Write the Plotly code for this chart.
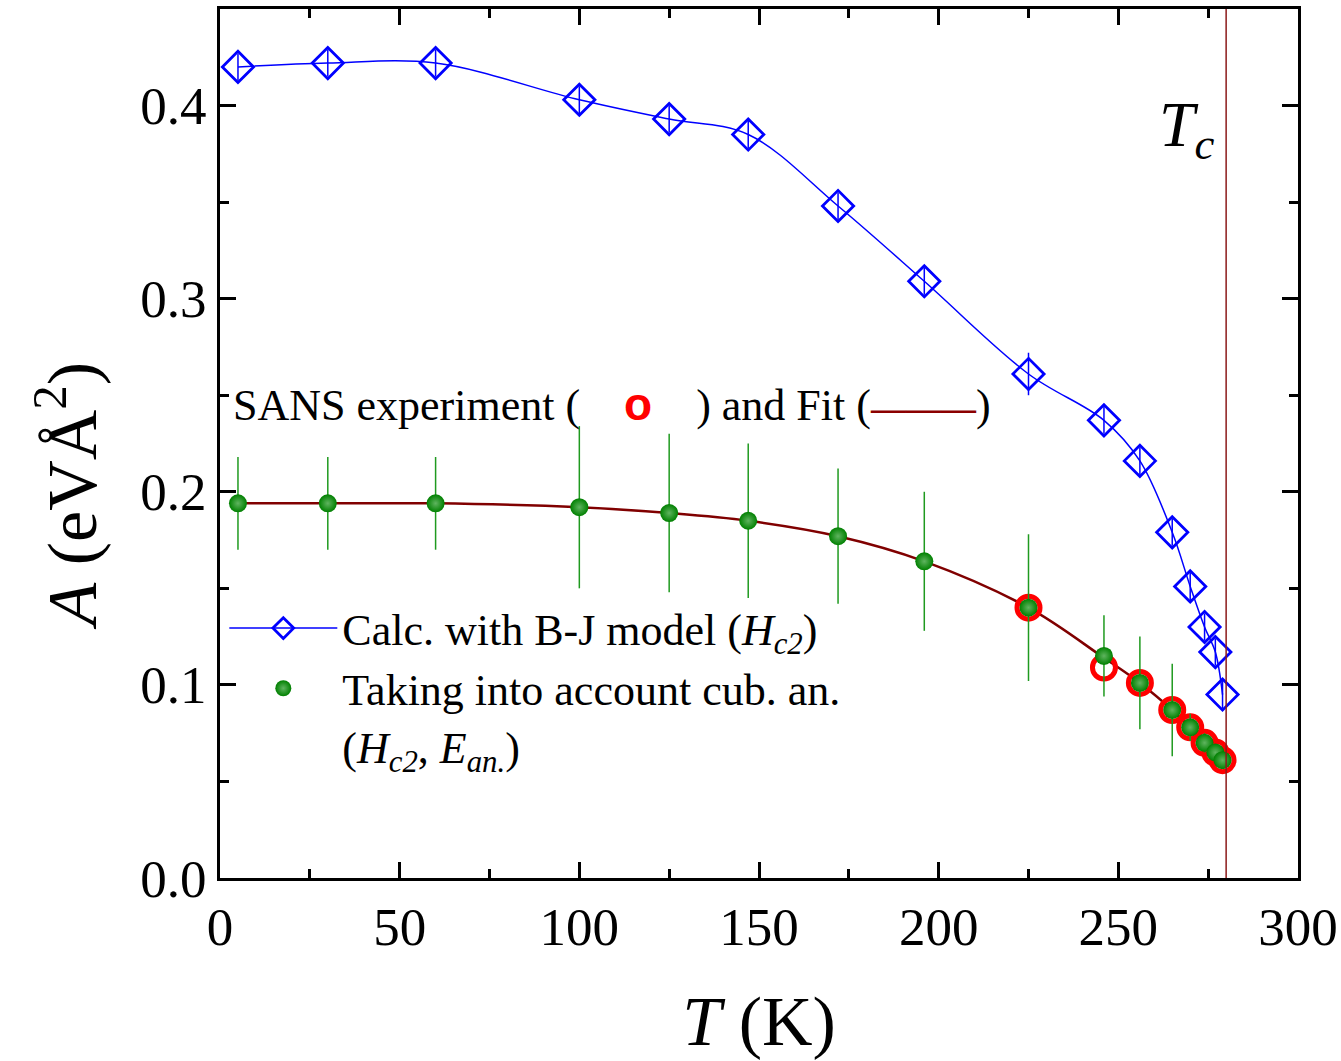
import plotly.graph_objects as go

# ---- data ----
T_bj = [5, 30, 60, 100, 125, 147, 172, 196, 225, 246, 256, 265, 270, 274, 277, 279]
A_bj = [0.420, 0.422, 0.422, 0.403, 0.393, 0.385, 0.348, 0.309, 0.261, 0.237,
        0.216, 0.179, 0.151, 0.130, 0.117, 0.095]
A_bj_err = [0.007, 0.007, 0.007, 0.007, 0.007, 0.007, 0.007, 0.007, 0.011, 0.007,
            0.007, 0.007, 0.007, 0.007, 0.007, 0.007]

T_an = [5, 30, 60, 100, 125, 147, 172, 196, 225, 246, 256, 265, 270, 274, 277, 279]
A_an = [0.194, 0.194, 0.194, 0.192, 0.189, 0.185, 0.177, 0.164, 0.140, 0.115,
        0.101, 0.087, 0.078, 0.070, 0.065, 0.061]
A_an_err = [0.024, 0.024, 0.024, 0.042, 0.041, 0.040, 0.035, 0.036, 0.038, 0.021,
            0.024, 0.024, 0.007, 0.005, 0.004, 0.004]

T_sans = [225, 246, 256, 265, 270, 274, 277, 279]
A_sans = [0.140, 0.109, 0.101, 0.087, 0.078, 0.070, 0.065, 0.061]

T_fit = [5, 30, 60, 100, 125, 147, 172, 196, 225, 246, 256, 265, 270, 274, 277, 279]
A_fit = [0.194, 0.194, 0.194, 0.192, 0.189, 0.185, 0.177, 0.164, 0.140, 0.114,
         0.101, 0.087, 0.078, 0.070, 0.065, 0.061]

TC = 280
x_ticks = [0, 50, 100, 150, 200, 250, 300]
y_ticks = [0.0, 0.1, 0.2, 0.3, 0.4]
y_tick_text = ["0.0", "0.1", "0.2", "0.3", "0.4"]

FONT = "Liberation Serif, Times New Roman, serif"
BLUE = "#0000ff"
GREEN = "#008000"
DRED = "#800000"

fig = go.Figure()

fig.add_trace(go.Scatter(
    x=T_bj, y=A_bj, mode="lines+markers", line=dict(color=BLUE, width=1.5, shape="spline"),
    marker=dict(symbol="diamond-open", size=24, color=BLUE, line=dict(width=2.8, color=BLUE)),
    error_y=dict(type="data", array=A_bj_err, color=BLUE, thickness=1.5, width=0),
    name="Calc. with B-J model (<i>H</i><sub><i>c2</i></sub>)"))

fig.add_trace(go.Scatter(
    x=T_fit, y=A_fit, mode="lines", line=dict(color=DRED, width=2.5, shape="spline"),
    showlegend=False, name="Fit"))

fig.add_trace(go.Scatter(
    x=T_sans, y=A_sans, mode="markers",
    marker=dict(symbol="circle-open", size=23, color="#ff0000", line=dict(width=5, color="#ff0000")),
    showlegend=False, name="SANS experiment"))

fig.add_trace(go.Scatter(
    x=T_an, y=A_an, mode="markers",
    marker=dict(symbol="circle", size=18, color=GREEN,
                gradient=dict(type="radial", color="#5fb45f")),
    error_y=dict(type="data", array=A_an_err, color="#1f9a1f", thickness=1.5, width=0),
    name="Taking into account cub. an.<br>(<i>H</i><sub><i>c2</i></sub>, <i>E</i><sub><i>an.</i></sub>)"))

fig.add_shape(type="line", x0=TC, x1=TC, y0=0, y1=1, xref="x", yref="paper",
              line=dict(color="#8b1a1a", width=1.5))

fig.add_annotation(x=TC - 2.5, y=0.388, xref="x", yref="y", xanchor="right", showarrow=False,
                   text="<i>T</i><sub><i>c</i></sub>", font=dict(family=FONT, size=64, color="black"))

fig.add_annotation(x=0.01, y=0.2457, xref="paper", yref="y", xanchor="left", yanchor="middle",
                   showarrow=False,
                   text="SANS experiment (    <span style='color:#ff0000;font-family:Arial;font-size:46px'><b>o</b></span>    ) and Fit (<span style='color:#8b0000;font-size:35px'><b>―――</b></span>)",
                   font=dict(family=FONT, size=44, color="black"))

# y-axis title placed as a rotated annotation (it is off-centre in the reference)
fig.add_annotation(x=-0.143, y=0.44, xref="paper", yref="paper", xanchor="center", yanchor="middle",
                   showarrow=False, textangle=-90,
                   text="<i>A</i> (eVÅ<sup>2</sup>)", font=dict(family=FONT, size=70, color="black"))

axis_common = dict(showline=True, linecolor="black", linewidth=3, mirror="ticks",
                   ticks="inside", tickcolor="black", tickwidth=2.5, ticklen=16,
                   showgrid=False, zeroline=False, automargin=False,
                   tickfont=dict(family=FONT, size=53, color="black"))

fig.update_xaxes(range=[0, 300], tickvals=x_ticks, ticktext=[str(v) for v in x_ticks],
                 minor=dict(ticks="inside", ticklen=9, tickwidth=2.5, tickcolor="black", dtick=25),
                 title=dict(text="<i>T</i> (K)", font=dict(family=FONT, size=70, color="black"), standoff=42),
                 **axis_common)
fig.update_yaxes(range=[0, 0.45], tickvals=y_ticks, ticktext=y_tick_text,
                 minor=dict(ticks="inside", ticklen=9, tickwidth=2.5, tickcolor="black", dtick=0.05),
                 **axis_common)

fig.update_layout(
    width=1341, height=1061,
    margin=dict(l=220, r=43, t=9, b=183),
    paper_bgcolor="white", plot_bgcolor="white",
    showlegend=True,
    legend=dict(x=0.004, y=0.328, xanchor="left", yanchor="top", bgcolor="rgba(0,0,0,0)",
                font=dict(family=FONT, size=44, color="black"), valign="top",
                itemwidth=108, tracegroupgap=0),
)

fig.write_html("out.html")
